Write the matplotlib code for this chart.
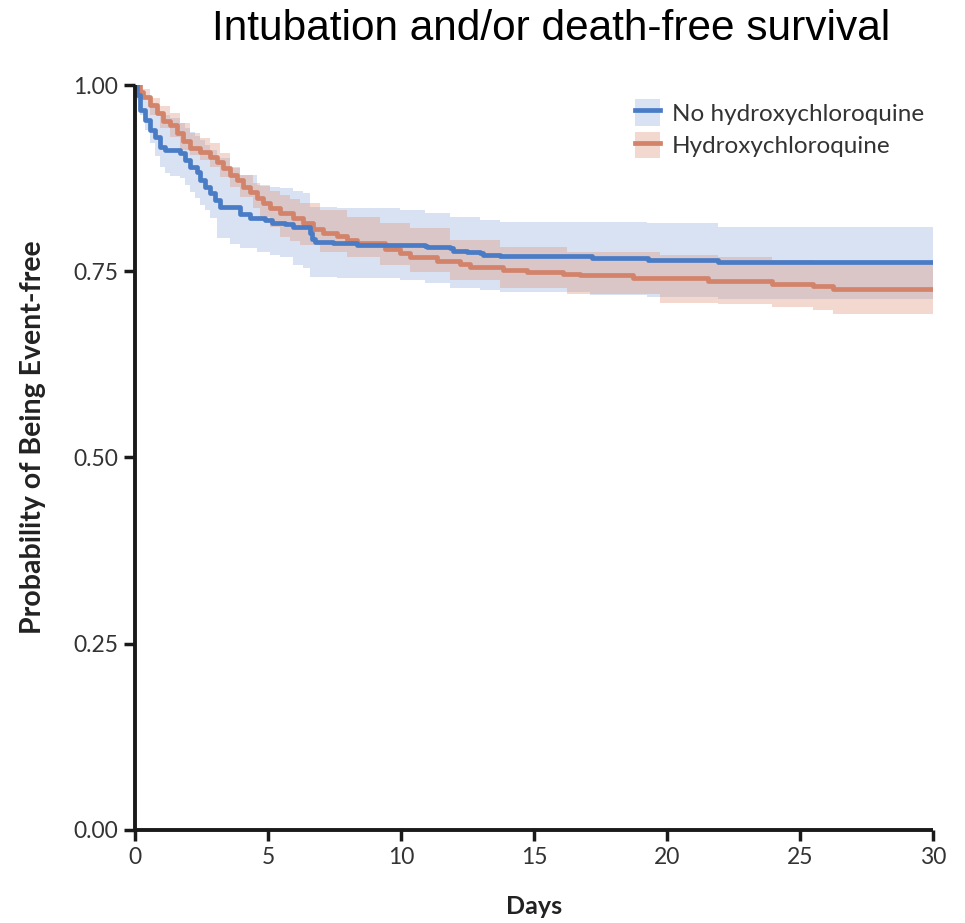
import numpy as np
import matplotlib
matplotlib.use("Agg")
import matplotlib.pyplot as plt
from matplotlib.patches import Patch
from matplotlib.lines import Line2D

# Kaplan-Meier step points (days, probability event-free)
no_hcq_days = [0, 0.08, 0.19, 0.38, 0.56, 0.75, 0.94, 1.13, 1.69, 1.88, 2.07, 2.33, 2.44,
               2.63, 2.82, 3.01, 3.20, 3.95, 4.32, 4.89, 5.15, 5.64, 5.94, 6.32, 6.58, 6.65,
               6.77, 7.44, 8.35, 10.90, 10.98, 11.84, 11.95, 12.48, 12.97, 13.08, 13.72,
               17.18, 19.29, 21.92]
no_hcq_surv = [1.0, 0.987, 0.966, 0.953, 0.940, 0.930, 0.917, 0.913, 0.909, 0.899, 0.890,
               0.883, 0.872, 0.863, 0.855, 0.846, 0.836, 0.827, 0.822, 0.819, 0.815, 0.814,
               0.810, 0.809, 0.802, 0.793, 0.789, 0.788, 0.785, 0.784, 0.782, 0.781, 0.777,
               0.776, 0.774, 0.772, 0.770, 0.768, 0.765, 0.762]

hcq_days = [0, 0.19, 0.30, 0.56, 0.83, 1.05, 1.32, 1.58, 1.80, 2.07, 2.44, 2.82, 3.08,
            3.31, 3.57, 3.83, 4.06, 4.32, 4.59, 4.81, 5.08, 5.45, 5.94, 6.32, 6.70, 7.07,
            7.59, 7.97, 8.35, 9.40, 9.96, 10.34, 11.35, 12.22, 12.59, 13.83, 14.74, 16.09,
            16.73, 18.72, 21.54, 23.95, 25.49, 26.24]
hcq_surv = [1.0, 0.991, 0.984, 0.973, 0.962, 0.952, 0.946, 0.936, 0.925, 0.915, 0.910,
            0.903, 0.897, 0.889, 0.879, 0.872, 0.863, 0.856, 0.848, 0.842, 0.835, 0.828,
            0.821, 0.815, 0.807, 0.801, 0.797, 0.792, 0.788, 0.780, 0.774, 0.769, 0.764,
            0.760, 0.756, 0.752, 0.749, 0.746, 0.745, 0.741, 0.737, 0.733, 0.730, 0.726]

# 95% confidence bands
no_hcq_ci_days = [0, 0.08, 0.19, 0.38, 0.56, 0.75, 0.94, 1.13, 1.32, 1.69, 1.88, 2.07, 2.25,
                  2.44, 2.63, 2.82, 3.08, 3.57, 3.95, 4.59, 5.08, 5.45, 5.94, 6.32, 6.58, 7.59,
                  9.96, 10.90, 11.84, 12.97, 13.72, 17.11, 19.25, 21.92]
no_hcq_upper = [1.0, 0.996, 0.991, 0.984, 0.976, 0.969, 0.964, 0.960, 0.956, 0.949, 0.942,
                0.937, 0.932, 0.926, 0.920, 0.913, 0.902, 0.889, 0.879, 0.866, 0.863, 0.862,
                0.858, 0.855, 0.836, 0.835, 0.832, 0.828, 0.823, 0.819, 0.816, 0.816, 0.815,
                0.809]
no_hcq_lower = [1.0, 0.980, 0.960, 0.940, 0.922, 0.905, 0.890, 0.882, 0.878, 0.875, 0.866,
                0.856, 0.848, 0.839, 0.832, 0.822, 0.795, 0.786, 0.781, 0.776, 0.772, 0.769,
                0.758, 0.754, 0.742, 0.741, 0.738, 0.734, 0.728, 0.725, 0.722, 0.718, 0.715,
                0.713]

hcq_ci_days = [0, 0.19, 0.56, 0.94, 1.32, 1.69, 2.07, 2.44, 2.82, 3.20, 3.57, 3.95, 4.44,
               4.70, 5.08, 5.45, 5.83, 6.20, 6.95, 7.97, 9.21, 10.34, 11.84, 13.72, 16.24,
               19.74, 21.92, 23.95, 25.49, 26.24]
hcq_upper = [1.0, 0.995, 0.983, 0.972, 0.962, 0.949, 0.936, 0.929, 0.922, 0.909, 0.890,
             0.879, 0.868, 0.864, 0.858, 0.852, 0.847, 0.842, 0.832, 0.823, 0.815, 0.808,
             0.792, 0.783, 0.776, 0.772, 0.769, 0.765, 0.762, 0.760]
hcq_lower = [1.0, 0.985, 0.960, 0.942, 0.930, 0.913, 0.906, 0.899, 0.890, 0.877, 0.863,
             0.850, 0.835, 0.823, 0.810, 0.796, 0.790, 0.785, 0.776, 0.769, 0.758, 0.749,
             0.738, 0.728, 0.719, 0.707, 0.706, 0.702, 0.698, 0.693]

x_ticks = [0, 5, 10, 15, 20, 25, 30]
y_ticks = [0.0, 0.25, 0.50, 0.75, 1.00]
y_tick_labels = ["0.00", "0.25", "0.50", "0.75", "1.00"]

blue = "#4a7cc6"
blue_band = "#7f9fd8"
orange = "#d2836a"
orange_band = "#de9a80"
sans = ["Lato", "DejaVu Sans"]


def extend(days, vals, end=30):
    # carry the last value out to the end of follow-up
    return np.append(days, end), np.append(vals, vals[-1])


fig = plt.figure(figsize=(9.65, 9.23), dpi=100)
ax = fig.add_axes([0.1399, 0.1008, 0.8269, 0.8071])

d, up = extend(no_hcq_ci_days, no_hcq_upper)
_, lo = extend(no_hcq_ci_days, no_hcq_lower)
ax.fill_between(d, lo, up, step="post", color=blue_band, alpha=0.30, lw=0)

d, up = extend(hcq_ci_days, hcq_upper)
_, lo = extend(hcq_ci_days, hcq_lower)
ax.fill_between(d, lo, up, step="post", color=orange_band, alpha=0.38, lw=0)

d, s = extend(hcq_days, hcq_surv)
ax.step(d, s, where="post", color=orange, lw=3.4)
d, s = extend(no_hcq_days, no_hcq_surv)
ax.step(d, s, where="post", color=blue, lw=3.4)

ax.set_xlim(0, 30)
ax.set_ylim(0, 1.0)
ax.set_xticks(x_ticks)
ax.set_yticks(y_ticks)
ax.set_yticklabels(y_tick_labels)
for lab in ax.get_xticklabels() + ax.get_yticklabels():
    lab.set_family(sans)
    lab.set_fontsize(16.5)
    lab.set_color("#333333")
ax.tick_params(direction="out", length=8, width=2.5, color="#1a1a1a", pad=4)
for side in ["top", "right"]:
    ax.spines[side].set_visible(False)
for side in ["left", "bottom"]:
    ax.spines[side].set_linewidth(2.8)
    ax.spines[side].set_color("#1a1a1a")
    ax.spines[side].set_capstyle("butt")

ax.set_xlabel("Days", family=sans, fontweight="bold", fontsize=18, color="#222222", labelpad=20)
ax.set_ylabel("Probability of Being Event-free", family=sans, fontweight="bold",
              fontsize=20.5, color="#222222")
ax.yaxis.set_label_coords(-0.112, 0.527)

handles = [
    (Patch(facecolor=blue_band, alpha=0.30, lw=0), Line2D([], [], color=blue, lw=3.4)),
    (Patch(facecolor=orange_band, alpha=0.38, lw=0), Line2D([], [], color=orange, lw=3.4)),
]
leg = ax.legend(handles, ["No hydroxychloroquine", "Hydroxychloroquine"],
                loc="upper right", bbox_to_anchor=(1.016, 1.01), frameon=False,
                prop={"family": "Lato", "size": 17.5}, handlelength=1.0, handleheight=1.3,
                handletextpad=0.5, labelspacing=0.25)
for t in leg.get_texts():
    t.set_color("#333333")

fig.text(0.571, 1 - 40 / 923, "Intubation and/or death-free survival", ha="center",
         va="baseline", family="Liberation Sans", fontsize=30.5, color="black")

fig.savefig("out.png", dpi=100)
